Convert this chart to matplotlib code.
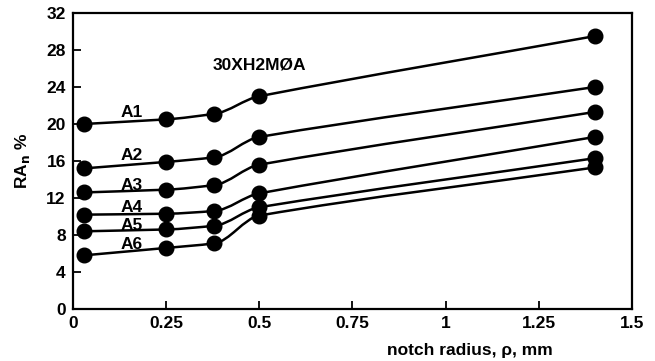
import matplotlib
matplotlib.use('Agg')
import matplotlib.pyplot as plt
from matplotlib.path import Path
from matplotlib.patches import PathPatch

plt.rcParams['font.family'] = ['Liberation Sans', 'DejaVu Sans']
plt.rcParams['font.weight'] = 'bold'

# notch radius, mm
radius = [0.03, 0.25, 0.38, 0.5, 1.4]

# reduction of area, %
ra = {
    'A1': [20.0, 20.5, 21.1, 23.0, 29.5],
    'A2': [15.2, 15.9, 16.4, 18.6, 24.0],
    'A3': [12.6, 12.9, 13.4, 15.6, 21.3],
    'A4': [10.2, 10.3, 10.6, 12.5, 18.6],
    'A5': [8.4, 8.6, 9.0, 11.0, 16.3],
    'A6': [5.8, 6.6, 7.1, 10.1, 15.3],
}
label_y = {'A1': 21.2, 'A2': 16.6, 'A3': 13.4, 'A4': 11.0, 'A5': 9.0, 'A6': 7.0}
label_x = 0.157

FS = 12.5


def smooth_path(xs, ys):
    # bezier curve through the points, tangent leans to the flatter secant
    n = len(xs)
    sec = [(ys[i + 1] - ys[i]) / (xs[i + 1] - xs[i]) for i in range(n - 1)]
    m = [sec[0]]
    for i in range(1, n - 1):
        lo, hi = min(sec[i - 1], sec[i]), max(sec[i - 1], sec[i])
        m.append(lo + 0.06 * (hi - lo))
    m.append(sec[-1])
    verts = [(xs[0], ys[0])]
    codes = [Path.MOVETO]
    for i in range(n - 1):
        dx = (xs[i + 1] - xs[i]) / 3
        verts += [(xs[i] + dx, ys[i] + m[i] * dx),
                  (xs[i + 1] - dx, ys[i + 1] - m[i + 1] * dx),
                  (xs[i + 1], ys[i + 1])]
        codes += [Path.CURVE4] * 3
    return Path(verts, codes)


fig = plt.figure(figsize=(6.55, 3.61), dpi=100)
ax = fig.add_axes([0.111, 0.144, 0.854, 0.82])

for name, vals in ra.items():
    ax.add_patch(PathPatch(smooth_path(radius, vals), fill=False,
                           edgecolor='black', lw=1.8))
    ax.plot(radius, vals, 'o', color='black', markersize=10.5)
    ax.text(label_x, label_y[name], name, ha='center', va='center',
            fontsize=FS, fontweight='bold')

ax.text(0.5, 26.4, '30XH2MØA', ha='center', va='center',
        fontsize=FS, fontweight='bold')

ax.set_xlim(0, 1.5)
ax.set_ylim(0, 32)
ax.set_xticks([0, 0.25, 0.5, 0.75, 1, 1.25, 1.5])
ax.set_xticklabels(['0', '0.25', '0.5', '0.75', '1', '1.25', '1.5'])
ax.set_yticks(range(0, 33, 4))
ax.tick_params(direction='in', length=6, width=1.3, labelsize=FS, pad=5)
for lab in ax.get_xticklabels() + ax.get_yticklabels():
    lab.set_fontweight('bold')
for s in ax.spines.values():
    s.set_linewidth(1.6)

ax.set_ylabel('RA$_\\mathbf{n}$ %', fontsize=FS, fontweight='bold', labelpad=10)
ax.set_xlabel('notch radius, ρ, mm', fontsize=FS, fontweight='bold')
ax.xaxis.set_label_coords(0.71, -0.115)

fig.savefig('out.png', dpi=100)
